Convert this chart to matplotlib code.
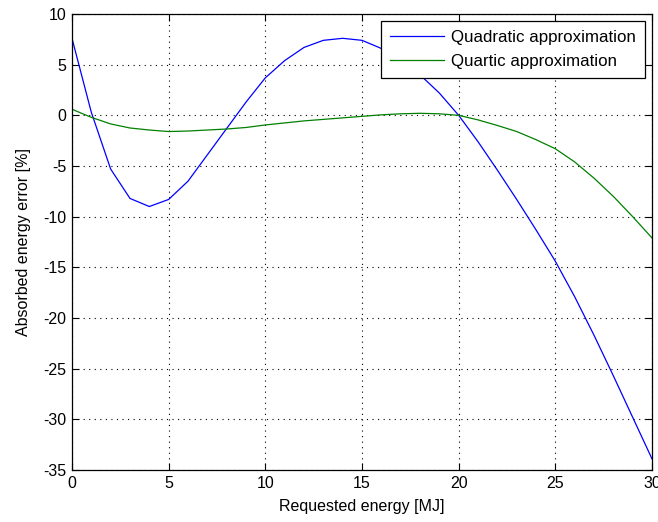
import numpy as np
import matplotlib.pyplot as plt

plt.rcParams['font.family'] = ['Liberation Sans', 'DejaVu Sans']
plt.rcParams['axes.unicode_minus'] = False

# requested energy [MJ]
energy = list(range(0, 31))

# absorbed energy error [%]
quadratic = [7.6, 0.3, -5.3, -8.2, -9.0, -8.3, -6.5, -3.9, -1.3, 1.3,
             3.7, 5.4, 6.7, 7.4, 7.6, 7.4, 6.6, 5.4, 4.0, 2.2,
             0.0, -2.6, -5.4, -8.3, -11.3, -14.4, -17.9, -21.7, -25.7, -29.8,
             -33.9]
quartic = [0.6, -0.2, -0.85, -1.25, -1.45, -1.6, -1.55, -1.45, -1.35, -1.2,
           -0.95, -0.75, -0.55, -0.4, -0.25, -0.1, 0.05, 0.15, 0.2, 0.15,
           0.0, -0.45, -1.0, -1.6, -2.4, -3.3, -4.6, -6.2, -8.0, -10.0,
           -12.1]

fig = plt.figure(figsize=(6.58, 5.22), dpi=100)
ax = fig.add_axes([0.1094, 0.0996, 0.8815, 0.8736])

ax.plot(energy, quadratic, color='#0000ff', lw=0.9, label='Quadratic approximation')
ax.plot(energy, quartic, color='#008000', lw=0.9, label='Quartic approximation')

ax.set_xlim(0, 30)
ax.set_ylim(-35, 10)
ax.set_xticks(np.arange(0, 31, 5))
ax.set_yticks(np.arange(-35, 11, 5))
ax.grid(True, color='black', linestyle=(0, (1, 4)), linewidth=0.8)
ax.tick_params(direction='in', top=True, right=True, labelsize=11.5, length=5, pad=4)
for s in ax.spines.values():
    s.set_linewidth(0.9)

ax.set_xlabel('Requested energy [MJ]', fontsize=11.5, labelpad=6)
ax.set_ylabel('Absorbed energy error [%]', fontsize=11.5, labelpad=9)

leg = ax.legend(loc='upper right', fontsize=12.2, fancybox=False, framealpha=1,
                edgecolor='black', borderaxespad=0.4, handlelength=3.2,
                handletextpad=0.4, borderpad=0.55, labelspacing=0.5)
leg.get_frame().set_linewidth(0.9)

fig.savefig('out.png', dpi=100)
